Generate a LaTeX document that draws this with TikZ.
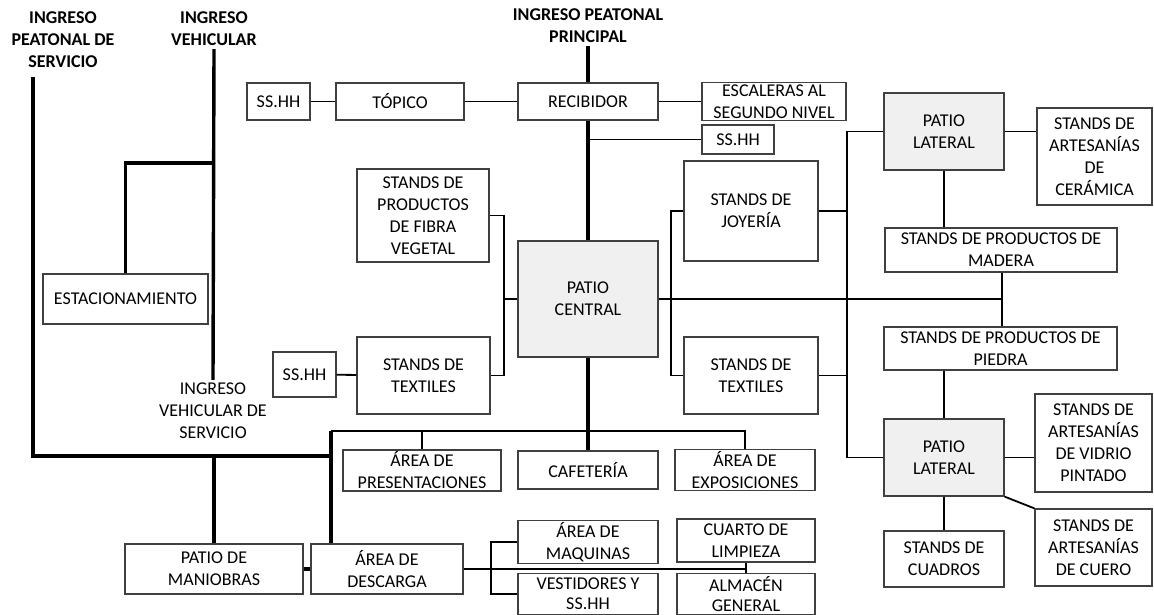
\documentclass[tikz,border=0pt]{standalone}
\usepackage{fontspec}
\setmainfont{Carlito}
\usetikzlibrary{positioning,calc}
\tikzset{
  box/.style 2 args={draw=black!75,line width=1.3pt,inner sep=2pt,
    minimum width=#1*1pt,minimum height=#2*1pt}
}

\begin{document}
\begin{tikzpicture}[
  x=1pt,y=-1pt,
  every node/.style={font=\fontsize{18}{22}\selectfont,align=center},
  patio/.style={fill=black!6},
  entry/.style={font=\fontsize{18}{22}\selectfont\bfseries,inner sep=3pt},
  low/.style={font=\fontsize{18}{20}\selectfont},
  link/.style={line width=1.8pt},
  main/.style={line width=3.4pt}
 ]
  \useasboundingbox (0,0) rectangle (1154,615);
  % ingresos
  \node[entry] (ingps) at (63,40) {INGRESO\\PEATONAL DE\\SERVICIO};
  \node[entry] (ingv) at (214,29) {INGRESO\\VEHICULAR};
  \node[entry] (ingpp) at (588,26) {INGRESO PEATONAL\\PRINCIPAL};
  \node[inner sep=3pt] (ingvs) at (213,411) {INGRESO\\VEHICULAR DE\\SERVICIO};
  % nivel de recepcion
  \node[box={63}{37}] (ssa) at (278.5,101.5) {SS.HH};
  \node[box={128}{37}] (topico) at (400,101.5) {TÓPICO};
  \node[box={140}{37}] (recib) at (588,101.5) {RECIBIDOR};
  \node[box={144}{37}] (escal) at (774,101.5) {ESCALERAS AL\\SEGUNDO NIVEL};
  \node[box={72}{29}] (ssb) at (738,139.5) {SS.HH};
  % patio central y stands
  \node[box={140}{116},patio] (pcent) at (588,299) {PATIO\\CENTRAL};
  \node[box={132}{93}] (fibra) at (423,215.5) {STANDS DE\\PRODUCTOS\\DE FIBRA\\VEGETAL};
  \node[box={133}{77}] (textl) at (423.5,375.5) {STANDS DE\\TEXTILES};
  \node[box={63}{45}] (ssc) at (304.5,374.5) {SS.HH};
  \node[box={134}{100}] (joy) at (751,211) {STANDS DE\\JOYERÍA};
  \node[box={134}{77}] (textr) at (751,375.5) {STANDS DE\\TEXTILES};
  % patios laterales
  \node[box={120}{77},patio] (platA) at (944,131.5) {PATIO\\LATERAL};
  \node[box={115}{97}] (ceram) at (1094.5,156.5) {STANDS DE\\ARTESANÍAS\\DE\\CERÁMICA};
  \node[box={232}{44}] (madera) at (1001,250) {STANDS DE PRODUCTOS DE\\MADERA};
  \node[box={233}{43}] (piedra) at (1000.5,348.5) {STANDS DE PRODUCTOS DE\\PIEDRA};
  \node[box={120}{77},patio] (platB) at (944,457.5) {PATIO\\LATERAL};
  \node[box={117}{98}] (vidrio) at (1093.5,443) {STANDS DE\\ARTESANÍAS\\DE VIDRIO\\PINTADO};
  \node[box={117}{77}] (cuero) at (1093.5,547.5) {STANDS DE\\ARTESANÍAS\\DE CUERO};
  \node[box={120}{56}] (cuadros) at (944,559) {STANDS DE\\CUADROS};
  % servicio
  \node[box={165}{50}] (estac) at (125.5,299) {ESTACIONAMIENTO};
  \node[box={158}{37}] (pres) at (422,470.5) {ÁREA DE\\PRESENTACIONES};
  \node[box={140}{38}] (cafe) at (588,470) {CAFETERÍA};
  \node[box={140}{38}] (expo) at (745,470) {ÁREA DE\\EXPOSICIONES};
  \node[box={178}{50}] (manio) at (214,569) {PATIO DE\\MANIOBRAS};
  \node[box={152}{50}] (desc) at (387,569) {ÁREA DE\\DESCARGA};
  \node[box={140}{40}] (maq) at (588,542) {ÁREA DE\\MAQUINAS};
  \node[box={138}{43}] (limp) at (746,540.5) {CUARTO DE\\LIMPIEZA};
  \node[box={140}{41},low] (vest) at (588,594) {VESTIDORES Y\\SS.HH};
  \node[box={138}{41},low] (almac) at (746,594) {ALMACÉN\\GENERAL};
  % puntos de union
  \coordinate (jT) at (33,77);
  \coordinate (jA) at (33,456);
  \coordinate (jB) at (331,456);
  \coordinate (jC) at (214,163);
  \coordinate (jD) at (331,431);
  \coordinate (jL) at (504,299);
  \coordinate (jR) at (671,299);
  \coordinate (jV) at (847,299);
  \coordinate (jM) at (1002,299);
  \coordinate (jK) at (491,569);
  % recorridos principales
  \draw[main] (jT) -- (jA) -- (jB);
  \draw[main] (ingv.south) -- (ingvs.north);
  \draw[main] (jC) -| (estac.north);
  \draw[main] (manio.north |- jA) -- (manio.north);
  \draw[main] (jD) -- (jB |- desc.north);
  \draw[main] (manio.east) -- (desc.west);
  \draw[main] (ingpp.south) -- (recib.north);
  \draw[main] (recib.south) -- (pcent.north);
  \draw[main] (pcent.south) -- (cafe.north);
  % conexiones
  \draw[link] (ssa) -- (topico);
  \draw[link] (topico) -- (recib);
  \draw[link] (recib) -- (escal);
  \draw[link] (recib.south |- ssb.west) -- (ssb.west);
  \draw[link] (fibra.east) -| (jL) |- (textl.east);
  \draw[link] (jL) -- (pcent.west);
  \draw[link] (ssc) -- (textl);
  \draw[link] (pcent.east) -- (jM);
  \draw[link] (madera.south -| jM) -- (piedra.north -| jM);
  \draw[link] (joy.west) -| (jR) |- (textr.west);
  \draw[link] (platA.west) -| (jV) |- (platB.west);
  \draw[link] (joy.east) -- (joy.east -| jV);
  \draw[link] (textr.east) -- (textr.east -| jV);
  \draw[link] (platA.east) -- (platA.east -| ceram.west);
  \draw[link] (platA.south) -- (platA.south |- madera.north);
  \draw[link] (platB.north |- piedra.south) -- (platB.north);
  \draw[link] (platB.east) -- (platB.east -| vidrio.west);
  \draw[link] (platB.south east) -- (cuero.north west);
  \draw[link] (platB) -- (cuadros);
  \draw[link] (jD) -| (expo.north);
  \draw[link] (pres.north |- jD) -- (pres.north);
  \draw[link] (desc.east) -- (desc.east -| limp.south);
  \draw[link] (limp.south) -- (almac.north);
  \draw[link] (maq.west) -| (jK) |- (vest.west);
 \end{tikzpicture}
\end{document}
